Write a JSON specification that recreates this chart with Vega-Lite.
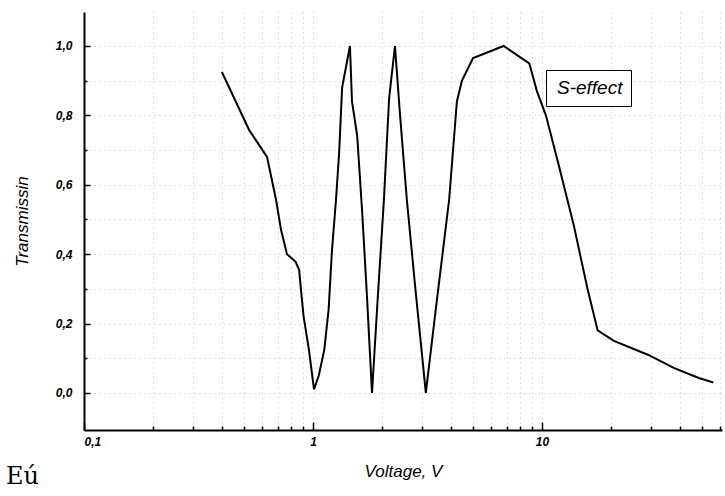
{
  "$schema": "https://vega.github.io/schema/vega-lite/v6.json",
  "width": 638,
  "height": 418,
  "autosize": {"type": "none"},
  "padding": {"left": 84, "top": 12, "right": 3, "bottom": 66},
  "background": "white",
  "title": {
    "text": "Eú",
    "orient": "bottom",
    "anchor": "start",
    "frame": "group",
    "font": "DejaVu Serif",
    "fontSize": 24,
    "fontWeight": "normal",
    "color": "black",
    "dx": -78,
    "offset": -14
  },
  "config": {
    "view": {"stroke": null},
    "axis": {
      "domainColor": "black",
      "domainWidth": 2,
      "tickColor": "black",
      "tickWidth": 1.5,
      "labelFont": "Liberation Sans",
      "labelFontWeight": "bold",
      "labelFontStyle": "italic",
      "labelFontSize": 12,
      "labelColor": "black",
      "titleFont": "Liberation Sans",
      "titleFontStyle": "italic",
      "titleFontWeight": "normal",
      "titleFontSize": 17,
      "titleColor": "black",
      "gridColor": "#999999",
      "gridDash": [1, 4],
      "gridOpacity": 0.6,
      "gridWidth": 1
    }
  },
  "data": {
    "values": [
      {"v": 0.40, "t": 0.925, "series": "S-effect"},
      {"v": 0.526, "t": 0.758, "series": "S-effect"},
      {"v": 0.63, "t": 0.68, "series": "S-effect"},
      {"v": 0.69, "t": 0.556, "series": "S-effect"},
      {"v": 0.725, "t": 0.47, "series": "S-effect"},
      {"v": 0.77, "t": 0.40, "series": "S-effect"},
      {"v": 0.84, "t": 0.378, "series": "S-effect"},
      {"v": 0.87, "t": 0.354, "series": "S-effect"},
      {"v": 0.886, "t": 0.297, "series": "S-effect"},
      {"v": 0.91, "t": 0.22, "series": "S-effect"},
      {"v": 0.96, "t": 0.124, "series": "S-effect"},
      {"v": 1.01, "t": 0.01, "series": "S-effect"},
      {"v": 1.06, "t": 0.05, "series": "S-effect"},
      {"v": 1.12, "t": 0.124, "series": "S-effect"},
      {"v": 1.17, "t": 0.24, "series": "S-effect"},
      {"v": 1.21, "t": 0.41, "series": "S-effect"},
      {"v": 1.26, "t": 0.556, "series": "S-effect"},
      {"v": 1.30, "t": 0.69, "series": "S-effect"},
      {"v": 1.34, "t": 0.88, "series": "S-effect"},
      {"v": 1.45, "t": 1.0, "series": "S-effect"},
      {"v": 1.48, "t": 0.84, "series": "S-effect"},
      {"v": 1.56, "t": 0.74, "series": "S-effect"},
      {"v": 1.64, "t": 0.52, "series": "S-effect"},
      {"v": 1.72, "t": 0.28, "series": "S-effect"},
      {"v": 1.81, "t": 0.0, "series": "S-effect"},
      {"v": 1.92, "t": 0.28, "series": "S-effect"},
      {"v": 2.04, "t": 0.556, "series": "S-effect"},
      {"v": 2.15, "t": 0.85, "series": "S-effect"},
      {"v": 2.28, "t": 1.0, "series": "S-effect"},
      {"v": 2.40, "t": 0.80, "series": "S-effect"},
      {"v": 2.57, "t": 0.556, "series": "S-effect"},
      {"v": 2.80, "t": 0.30, "series": "S-effect"},
      {"v": 3.11, "t": 0.0, "series": "S-effect"},
      {"v": 3.45, "t": 0.25, "series": "S-effect"},
      {"v": 3.93, "t": 0.556, "series": "S-effect"},
      {"v": 4.25, "t": 0.84, "series": "S-effect"},
      {"v": 4.47, "t": 0.90, "series": "S-effect"},
      {"v": 5.0, "t": 0.965, "series": "S-effect"},
      {"v": 6.8, "t": 1.0, "series": "S-effect"},
      {"v": 8.8, "t": 0.95, "series": "S-effect"},
      {"v": 9.5, "t": 0.87, "series": "S-effect"},
      {"v": 10.4, "t": 0.80, "series": "S-effect"},
      {"v": 11.8, "t": 0.66, "series": "S-effect"},
      {"v": 13.8, "t": 0.48, "series": "S-effect"},
      {"v": 15.8, "t": 0.30, "series": "S-effect"},
      {"v": 17.5, "t": 0.18, "series": "S-effect"},
      {"v": 20.6, "t": 0.15, "series": "S-effect"},
      {"v": 29.0, "t": 0.11, "series": "S-effect"},
      {"v": 37.6, "t": 0.072, "series": "S-effect"},
      {"v": 48.4, "t": 0.043, "series": "S-effect"},
      {"v": 56.0, "t": 0.03, "series": "S-effect"}
    ]
  },
  "mark": {"type": "line", "strokeWidth": 2, "interpolate": "linear"},
  "encoding": {
    "x": {
      "field": "v",
      "type": "quantitative",
      "scale": {"type": "log", "domain": [0.1, 61.1], "nice": false},
      "axis": {
        "title": "Voltage, V",
        "titlePadding": 12,
        "values": [0.1, 0.2, 0.3, 0.4, 0.5, 0.6, 0.7, 0.8, 0.9, 1, 2, 3, 4, 5, 6, 7, 8, 9, 10, 20, 30, 40, 50, 60],
        "labelExpr": "datum.value == 0.1 ? '0,1' : (datum.value == 1 ? '1' : (datum.value == 10 ? '10' : ''))",
        "tickSize": {"condition": {"test": "datum.value == 0.1 || datum.value == 1 || datum.value == 10", "value": -8}, "value": -4},
        "labelPadding": 14,
        "grid": true,
        "labelOverlap": false
      }
    },
    "y": {
      "field": "t",
      "type": "quantitative",
      "scale": {"domain": [-0.107, 1.098], "nice": false, "zero": false},
      "axis": {
        "title": "Transmissin",
        "titlePadding": 24,
        "values": [0, 0.1, 0.2, 0.3, 0.4, 0.5, 0.6, 0.7, 0.8, 0.9, 1.0],
        "labelExpr": "round(datum.value * 10) % 2 == 0 ? replace(format(datum.value, '.1f'), '.', ',') : ''",
        "tickSize": {"condition": {"test": "round(datum.value * 10) % 2 == 0", "value": -6}, "value": -3},
        "labelPadding": 18,
        "grid": true,
        "labelOverlap": false
      }
    },
    "color": {
      "field": "series",
      "type": "nominal",
      "scale": {"range": ["black"]},
      "legend": {
        "title": null,
        "orient": "none",
        "legendX": 462,
        "legendY": 58,
        "symbolSize": 0,
        "symbolStrokeWidth": 0,
        "symbolOpacity": 0,
        "labelOffset": -16,
        "labelFont": "Liberation Sans",
        "labelFontStyle": "italic",
        "labelFontSize": 19,
        "labelColor": "black",
        "strokeColor": "black",
        "fillColor": "white",
        "padding": 8
      }
    }
  }
}
